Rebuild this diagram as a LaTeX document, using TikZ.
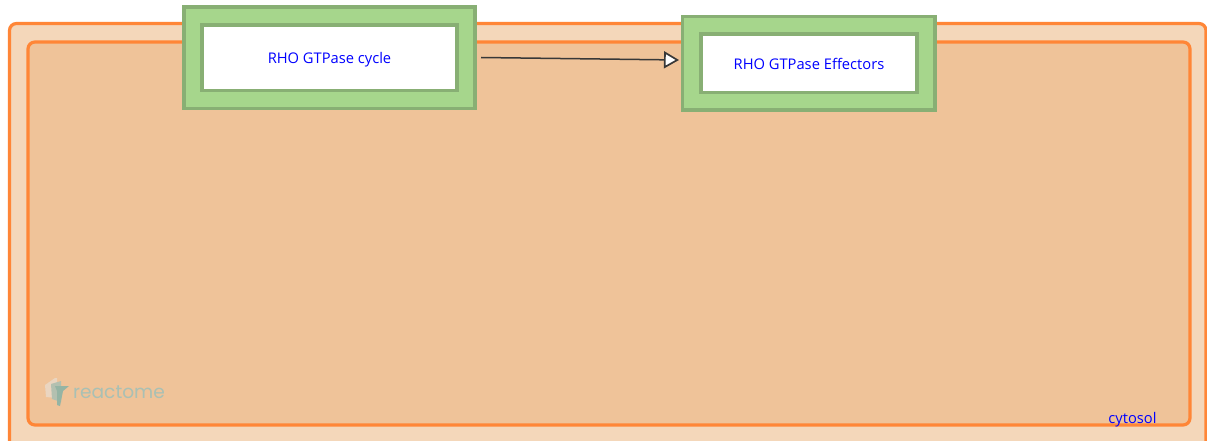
\documentclass[tikz,border=0pt]{standalone}
\usepackage{fontspec}
\setmainfont{Open Sans}
\newfontfamily\logofont{Poppins}
\usetikzlibrary{arrows.meta}
\definecolor{compOuter}{HTML}{F4D7BA}
\definecolor{compInner}{HTML}{EFC399}
\definecolor{compLine}{HTML}{FF8637}
\definecolor{pathFill}{HTML}{A6D68C}
\definecolor{pathLine}{HTML}{88AF74}
\definecolor{logoText}{HTML}{A9C0B4}
\tikzset{
  comp/.style={draw=compLine,line width=3.2pt,rounded corners=7pt},
  pathouter/.style={draw=pathLine,fill=pathFill,line width=3.5pt,inner sep=0pt,outer sep=0pt},
  pathinner/.style={draw=pathLine,fill=white,line width=3.5pt,inner sep=0pt,outer sep=0pt,
    text=blue,font=\fontsize{14.7}{17}\selectfont,align=center},
  conn/.style={draw=black!78,line width=1.5pt,-{Triangle[open,fill=white,length=15pt,width=17pt,line width=1.7pt]}}
}
\begin{document}
\begin{tikzpicture}[x=1pt,y=-1pt]
\useasboundingbox (0,0) rectangle (1207,441);
\fill[white] (0,0) rectangle (1207,441);
% compartments
\draw[comp,fill=compOuter] (9.5,460) -- (9.5,23.5) -- (1206,23.5) -- (1206,460);
\draw[comp,fill=compInner] (28,42) rectangle (1190,425);
% logo
\fill[fill=white!45!compInner!90!gray] (45,385) -- (55,378) -- (57,378) -- (57,398) -- (46,397) -- cycle;
\fill[fill=logoText!85!compInner] (51,384) -- (61,381) -- (61,402) -- (52,399) -- cycle;
\fill[fill=logoText!75!teal!80!compInner] (55,386) -- (69,386) -- (63,391) -- (60,406) -- (57,405) -- (57,391) -- cycle;
\node[anchor=base west,inner sep=0pt,text=logoText,font=\logofont\fontsize{18.6}{22}\selectfont] (logo) at (73,398) {reactome};
% pathways
\path[pathouter] (184,7) rectangle (475,108.5);
\path[pathouter] (682.5,16.5) rectangle (935,110);
\node[pathinner,minimum width=255pt,minimum height=65.5pt] (cycle) at (329.5,57.75) {\raisebox{-1.5pt}[\height][\depth]{RHO GTPase cycle}};
\node[pathinner,minimum width=216pt,minimum height=58.5pt] (effectors) at (809,63.25) {\raisebox{-0.6pt}[\height][\depth]{RHO GTPase Effectors}};
% connector
\draw[conn] ([xshift=24pt,yshift=0.25pt]cycle.east) -- ([xshift=-22pt,yshift=3.25pt]effectors.west);
% label
\node[anchor=base,inner sep=0pt,text=blue,font=\fontsize{14.7}{17}\selectfont] (cyt) at (1132.5,423) {cytosol};
\end{tikzpicture}
\end{document}
